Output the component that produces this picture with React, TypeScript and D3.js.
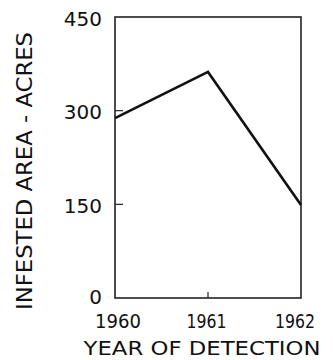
import React, { useEffect, useRef } from 'react';
import * as d3 from 'd3';

// values
const years = [1960, 1961, 1962];
const acres = [288, 362, 149];
const yTicks = [0, 150, 300, 450];

const App = () => {
  const svgRef = useRef<SVGSVGElement | null>(null);

  useEffect(() => {
    const svg = d3.select(svgRef.current);
    svg.selectAll('*').remove();

    const width = 333;
    const height = 360;
    const left = 115, right = 301, top = 17, bottom = 298;
    const font = "'DejaVu Sans', sans-serif";

    const x = d3.scaleLinear().domain([1960, 1962]).range([left, right]);
    const y = d3.scaleLinear().domain([0, 450]).range([bottom, top]);

    svg.attr('width', width).attr('height', height).style('background', '#fff');

    // frame
    svg.append('rect')
      .attr('x', left).attr('y', top)
      .attr('width', right - left).attr('height', bottom - top)
      .attr('fill', 'none').attr('stroke', '#222').attr('stroke-width', 1.6);

    // inner ticks
    svg.append('g').selectAll('line')
      .data(yTicks.filter(t => t > 0 && t < 450))
      .join('line')
      .attr('x1', left).attr('x2', left + 8)
      .attr('y1', d => y(d)).attr('y2', d => y(d))
      .attr('stroke', '#222').attr('stroke-width', 1.2);

    svg.append('line')
      .attr('x1', x(1961)).attr('x2', x(1961))
      .attr('y1', bottom).attr('y2', bottom - 6)
      .attr('stroke', '#222').attr('stroke-width', 1.2);

    // y tick labels
    svg.append('g').selectAll('text')
      .data(yTicks)
      .join('text')
      .attr('x', 102)
      .attr('y', d => y(d) + (d === 0 ? 0 : 3))
      .attr('text-anchor', 'end')
      .attr('dominant-baseline', 'middle')
      .style('font-family', font)
      .style('font-size', '20px')
      .attr('fill', '#111')
      .text(d => d);

    // x tick labels (the typeface's "1" is narrow, so centres drift left)
    svg.append('g').selectAll('text')
      .data(years)
      .join('text')
      .attr('x', d => x(d) + 3 - (d - 1960) * 4.5)
      .attr('y', 328)
      .attr('text-anchor', 'middle')
      .attr('textLength', d => (d === 1960 ? 46 : 40))
      .attr('lengthAdjust', 'spacingAndGlyphs')
      .style('font-family', font)
      .style('font-size', '20px')
      .attr('fill', '#111')
      .text(d => d);

    // axis titles
    svg.append('text')
      .attr('x', 202).attr('y', 355)
      .attr('text-anchor', 'middle')
      .attr('textLength', 237)
      .attr('lengthAdjust', 'spacingAndGlyphs')
      .style('font-family', font)
      .style('font-size', '20px')
      .attr('fill', '#111')
      .text('YEAR OF DETECTION');

    svg.append('text')
      .attr('transform', 'translate(32,171) rotate(-90)')
      .attr('text-anchor', 'middle')
      .attr('textLength', 278)
      .attr('lengthAdjust', 'spacingAndGlyphs')
      .style('font-family', font)
      .style('font-size', '21px')
      .attr('fill', '#111')
      .text('INFESTED AREA - ACRES');

    // data line
    const line = d3.line<number>()
      .x((_, i) => x(years[i]))
      .y(d => y(d));

    svg.append('path')
      .datum(acres)
      .attr('d', line)
      .attr('fill', 'none')
      .attr('stroke', '#111')
      .attr('stroke-width', 2.6)
      .attr('stroke-linejoin', 'miter');
  }, []);

  return (
    <svg ref={svgRef} style={{ position: 'absolute', left: 0, top: 0 }}></svg>
  );
};

export default App;
